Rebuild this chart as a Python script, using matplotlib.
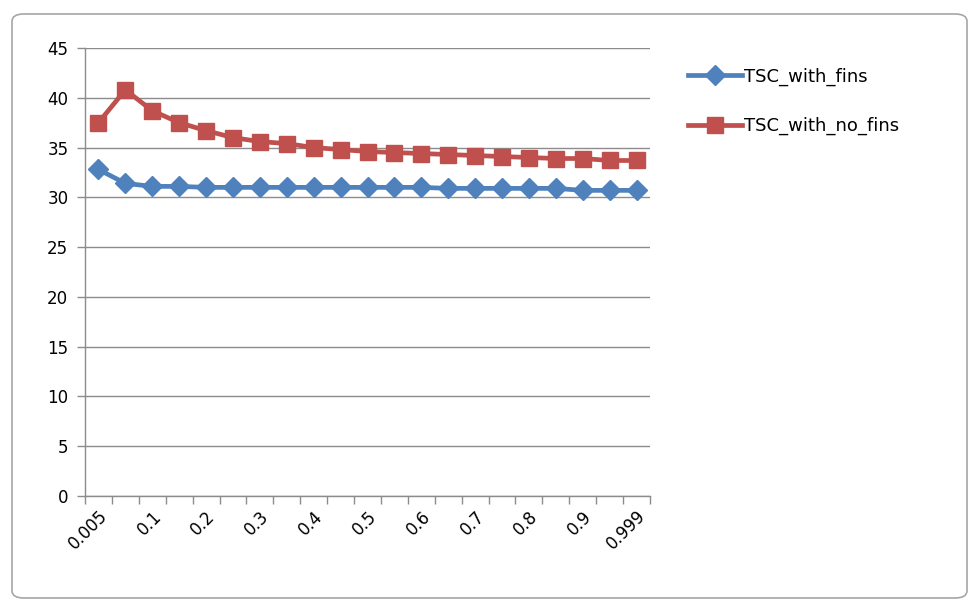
import numpy as np
import matplotlib
matplotlib.use("Agg")
from matplotlib import pyplot as plt
from matplotlib.patches import FancyBboxPatch

# categories on the x axis (text categories, Excel style)
categories = ['0.005', '0.05', '0.1', '0.15', '0.2', '0.25', '0.3', '0.35', '0.4',
              '0.45', '0.5', '0.55', '0.6', '0.65', '0.7', '0.75', '0.8', '0.85',
              '0.9', '0.95', '0.999']
tsc_fins = [32.8, 31.4, 31.1, 31.1, 31.0, 31.0, 31.0, 31.0, 31.0, 31.0, 31.0,
            31.0, 31.0, 30.9, 30.9, 30.9, 30.9, 30.9, 30.7, 30.7, 30.7]
tsc_no_fins = [37.5, 40.8, 38.7, 37.5, 36.7, 36.0, 35.6, 35.4, 35.0, 34.8, 34.6,
               34.5, 34.4, 34.3, 34.2, 34.1, 34.0, 33.9, 33.9, 33.7, 33.7]
label_cats = categories[::2]

plt.rcParams['font.family'] = ['DejaVu Sans']

fig = plt.figure(figsize=(9.77, 6.10), dpi=100)

# chart area frame with rounded corners
frame = FancyBboxPatch((12/977, 12/610), 955/977, 584/610,
                       boxstyle="round,pad=0,rounding_size=0.012",
                       transform=fig.transFigure, facecolor='white',
                       edgecolor='#a6a6a6', linewidth=1.2, zorder=-5)
fig.patches.append(frame)

ax = fig.add_axes([85/977, 1 - 496/610, (650 - 85)/977, (496 - 48)/610])
ax.set_facecolor('none')
ax.set_zorder(2)

x = np.arange(len(categories))
ax.plot(x, tsc_fins, color='#4f81bd', linewidth=3.4, marker='D', markersize=10,
        label='TSC_with_fins', zorder=3)
ax.plot(x, tsc_no_fins, color='#c0504d', linewidth=3.4, marker='s', markersize=12,
        label='TSC_with_no_fins', zorder=3)

ax.set_xlim(-0.5, len(categories) - 0.5)
ax.set_ylim(0, 45)
ax.set_yticks(np.arange(0, 46, 5))
ax.yaxis.grid(True, color='#8c8c8c', linewidth=1)
ax.set_axisbelow(True)

ax.set_xticks(np.arange(-0.5, len(categories), 1), minor=True)
ax.set_xticks(x[::2])
ax.set_xticklabels(label_cats, rotation=45, ha='right', rotation_mode='anchor')
ax.tick_params(axis='x', which='major', length=0, pad=8, labelsize=12)
ax.tick_params(axis='x', which='minor', length=6, color='#8c8c8c', width=1)
ax.tick_params(axis='y', length=6, color='#8c8c8c', width=1, labelsize=12, pad=6)

for s in ['top', 'right']:
    ax.spines[s].set_visible(False)
for s in ['left', 'bottom']:
    ax.spines[s].set_color('#8c8c8c')
    ax.spines[s].set_linewidth(1)

leg = fig.legend(loc='upper left', bbox_to_anchor=(672/977, 1 - 51/610),
                 frameon=False, fontsize=13, handlelength=3.0, handletextpad=0.1,
                 labelspacing=1.75)

fig.savefig('out.png', dpi=100)
